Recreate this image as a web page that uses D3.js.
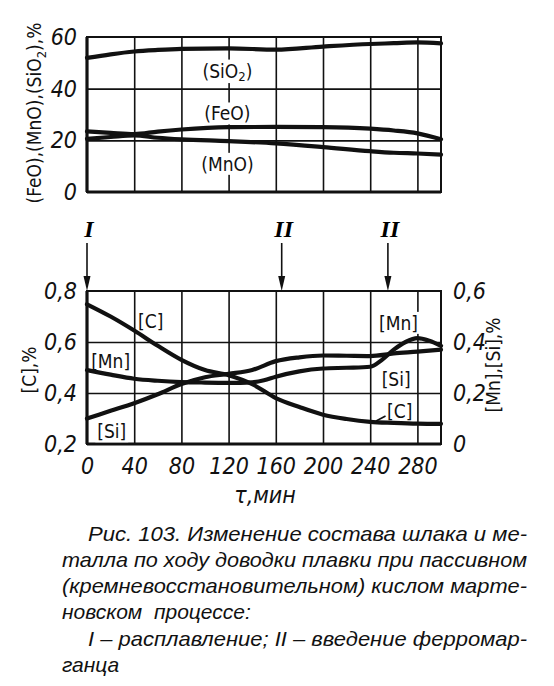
<!DOCTYPE html>
<html>
<head>
<meta charset="utf-8">
<script src="https://cdn.jsdelivr.net/npm/d3@7"></script>
<style>
  html, body { margin: 0; padding: 0; background: #fff; }
  svg { display: block; }
  .num { font-family: "DejaVu Sans Condensed", "DejaVu Sans", sans-serif; font-style: italic; font-size: 23px; fill: #111; }
  .lab { font-family: "DejaVu Sans Condensed", "DejaVu Sans", sans-serif; font-size: 19px; fill: #111; }
  .cap { font-family: "Liberation Sans", Arimo, Arial, sans-serif; font-style: italic; font-size: 21px; fill: #111; }
</style>
</head>
<body>
<div id="chart"></div>
<script>
// time axis, min
var timeTicks = [0, 40, 80, 120, 160, 200, 240, 280];

// slag, %
var slagTime = [0, 20, 40, 60, 80, 120, 160, 200, 240, 260, 280, 300];
var sio2 = [51.9, 53.3, 54.4, 55.0, 55.4, 55.6, 55.1, 56.3, 57.3, 57.6, 57.9, 57.5];
var feo  = [23.5, 22.9, 22.4, 23.4, 24.2, 25.1, 25.2, 25.1, 24.5, 23.8, 22.7, 20.4];
var mno  = [20.6, 21.3, 21.9, 21.0, 20.4, 19.7, 18.8, 17.4, 15.8, 15.2, 14.9, 14.5];

// metal, %
var cTime = [0, 20, 40, 60, 80, 100, 120, 140, 160, 180, 200, 220, 240, 260, 280, 300];
var carbon = [0.748, 0.70, 0.645, 0.585, 0.53, 0.49, 0.47, 0.435, 0.38, 0.345, 0.315, 0.298, 0.287, 0.283, 0.280, 0.279];
var mnTime = [0, 20, 40, 60, 80, 100, 120, 140, 150, 160, 180, 200, 220, 240, 250, 260, 270, 280, 290, 300];
var mn = [0.29, 0.272, 0.256, 0.248, 0.243, 0.241, 0.240, 0.242, 0.250, 0.264, 0.285, 0.296, 0.299, 0.303, 0.33, 0.37, 0.40, 0.415, 0.405, 0.385];
var siTime = [0, 20, 40, 60, 80, 100, 120, 140, 160, 180, 200, 220, 240, 260, 280, 300];
var si = [0.10, 0.13, 0.16, 0.195, 0.235, 0.262, 0.275, 0.29, 0.325, 0.34, 0.347, 0.346, 0.345, 0.355, 0.362, 0.37];

// events: I - melting, II - ferromanganese
var eventTime = [0, 165, 255];
var eventName = ["I", "II", "II"];

var captionLines = [
  "Рис. 103. Изменение состава шлака и ме-",
  "талла по ходу доводки плавки при пассивном",
  "(кремневосстановительном) кислом марте-",
  "новском  процессе:",
  "I – расплавление; II – введение ферромар-",
  "ганца"
];

var W = 554, H = 686;
var svg = d3.select("#chart").append("svg").attr("width", W).attr("height", H);

var x = d3.scaleLinear().domain([0, 300]).range([87, 441]);
var yTop = d3.scaleLinear().domain([0, 60]).range([192, 37]);
var yC = d3.scaleLinear().domain([0.2, 0.8]).range([444, 291]);
var yR = d3.scaleLinear().domain([0, 0.6]).range([444, 291]);

function grid(g, yScale, hVals, y0, y1) {
  g.append("g")
    .attr("transform", "translate(0," + y0 + ")")
    .call(d3.axisBottom(x).tickValues(d3.range(40, 300, 40)).tickSize(-(y0 - y1)).tickFormat(""))
    .call(function(a){ a.select(".domain").remove(); })
    .selectAll("line").attr("stroke", "#111").attr("stroke-width", 1.6);
  g.append("g")
    .attr("transform", "translate(" + x(0) + ",0)")
    .call(d3.axisLeft(yScale).tickValues(hVals).tickSize(-(x(300) - x(0))).tickFormat(""))
    .call(function(a){ a.select(".domain").remove(); })
    .selectAll("line").attr("stroke", "#111").attr("stroke-width", 1.6);
  g.append("rect")
    .attr("x", x(0)).attr("y", y1)
    .attr("width", x(300) - x(0)).attr("height", y0 - y1)
    .attr("fill", "none").attr("stroke", "#111").attr("stroke-width", 2);
  g.append("line").attr("x1", x(0)).attr("x2", x(0)).attr("y1", y1).attr("y2", y0)
    .attr("stroke", "#111").attr("stroke-width", 3.2);
  g.append("line").attr("x1", x(0)).attr("x2", x(300)).attr("y1", y0).attr("y2", y0)
    .attr("stroke", "#111").attr("stroke-width", 3);
}

function curve(g, ts, vs, yScale) {
  var line = d3.line()
    .x(function(d){ return x(d[0]); })
    .y(function(d){ return yScale(d[1]); })
    .curve(d3.curveMonotoneX);
  g.append("path")
    .datum(d3.zip(ts, vs))
    .attr("d", line)
    .attr("fill", "none")
    .attr("stroke", "#111")
    .attr("stroke-width", 4.2)
    .attr("stroke-linecap", "round");
}

function label(g, txt, t, v, yScale, sub) {
  var lg = g.append("g");
  var bg = lg.append("rect").attr("fill", "#fff");
  var tx = lg.append("text").attr("class", "lab")
    .attr("x", x(t)).attr("y", yScale(v))
    .attr("text-anchor", "middle").attr("dominant-baseline", "central");
  if (sub) {
    tx.append("tspan").text(txt[0]);
    tx.append("tspan").attr("dy", 5).style("font-size", "13px").text(txt[1]);
    tx.append("tspan").attr("dy", -5).text(txt[2]);
  } else {
    tx.text(txt);
  }
  var b = tx.node().getBBox();
  bg.attr("x", b.x - 2).attr("y", b.y).attr("width", b.width + 4).attr("height", b.height);
}

// ---- top chart: slag
var topG = svg.append("g");
grid(topG, yTop, [20, 40], 192, 37);
label(topG, ["(SiO", "2", ")"], 119, 47, yTop, true);
label(topG, "(FeO)", 119, 30.4, yTop);
label(topG, "(MnO)", 119, 10.9, yTop);
curve(topG, slagTime, sio2, yTop);
curve(topG, slagTime, feo, yTop);
curve(topG, slagTime, mno, yTop);

topG.append("g")
  .attr("transform", "translate(" + x(0) + ",0)")
  .call(d3.axisLeft(yTop).tickValues([0, 20, 40, 60]).tickSize(0).tickPadding(10).tickFormat(d3.format("d")))
  .call(function(a){ a.select(".domain").remove(); })
  .selectAll("text").attr("class", "num");

var tt = topG.append("text").attr("class", "lab")
  .attr("transform", "translate(41,113) rotate(-90)")
  .attr("text-anchor", "middle");
tt.append("tspan").text("(FeO),(MnO),(SiO");
tt.append("tspan").attr("dy", 5).style("font-size", "13px").text("2");
tt.append("tspan").attr("dy", -5).text("),%");

// ---- bottom chart: metal
var bot = svg.append("g");
grid(bot, yC, [0.4, 0.6], 444, 291);
label(bot, "[C]", 54, 0.682, yC);
label(bot, "[Mn]", 20, 0.525, yC);
label(bot, "[Si]", 21, 0.25, yC);
label(bot, "[Mn]", 264, 0.675, yC);
label(bot, "[Si]", 262, 0.455, yC);
label(bot, "[C]", 265, 0.33, yC);
curve(bot, cTime, carbon, yC);
curve(bot, mnTime, mn, yR);
curve(bot, siTime, si, yR);
// leader from [C] label to the curve
bot.append("line")
  .attr("x1", x(245)).attr("y1", yC(0.29))
  .attr("x2", x(253)).attr("y2", yC(0.31))
  .attr("stroke", "#111").attr("stroke-width", 1.6);

var comma = function(d){ return d === 0 ? "0" : d3.format(".1f")(d).replace(".", ","); };
bot.append("g")
  .attr("transform", "translate(" + x(0) + ",0)")
  .call(d3.axisLeft(yC).tickValues([0.2, 0.4, 0.6, 0.8]).tickSize(0).tickPadding(10).tickFormat(comma))
  .call(function(a){ a.select(".domain").remove(); })
  .selectAll("text").attr("class", "num");
bot.append("g")
  .attr("transform", "translate(" + x(300) + ",0)")
  .call(d3.axisRight(yR).tickValues([0, 0.2, 0.4, 0.6]).tickSize(0).tickPadding(12).tickFormat(comma))
  .call(function(a){ a.select(".domain").remove(); })
  .selectAll("text").attr("class", "num");
bot.append("g")
  .attr("transform", "translate(0,444)")
  .call(d3.axisBottom(x).tickValues(timeTicks).tickSize(0).tickPadding(14))
  .call(function(a){ a.select(".domain").remove(); })
  .selectAll("text").attr("class", "num");

bot.append("text").attr("class", "lab")
  .attr("transform", "translate(36,370) rotate(-90)")
  .attr("text-anchor", "middle").text("[C],%");
bot.append("text").attr("class", "lab")
  .attr("transform", "translate(500,365) rotate(-90)")
  .attr("text-anchor", "middle").text("[Mn],[Si],%");
bot.append("text").attr("class", "num")
  .attr("x", 265).attr("y", 503).attr("text-anchor", "middle")
  .text("τ,мин");

// event arrows
eventTime.forEach(function(t, i) {
  var ax = x(t);
  bot.append("line")
    .attr("x1", ax).attr("x2", ax).attr("y1", 243).attr("y2", 281)
    .attr("stroke", "#111").attr("stroke-width", 1.6);
  bot.append("path")
    .attr("d", "M" + (ax - 3.5) + ",276 L" + ax + ",291 L" + (ax + 3.5) + ",276 Z")
    .attr("fill", "#111");
  bot.append("text")
    .attr("x", ax + 2).attr("y", 237)
    .attr("text-anchor", "middle")
    .style("font-family", "'Liberation Serif', serif")
    .style("font-style", "italic")
    .style("font-weight", "bold")
    .style("font-size", "24px")
    .text(eventName[i]);
});

// caption
var capX = [88, 62, 62, 62, 88, 62];
var capY = [541, 567, 593, 619, 646, 672];
var capJust = [true, true, true, false, true, false];
captionLines.forEach(function(s, i) {
  var t = svg.append("text").attr("class", "cap")
    .attr("x", capX[i]).attr("y", capY[i])
    .attr("xml:space", "preserve").style("white-space", "pre")
    .text(s);
  if (capJust[i]) t.attr("textLength", 527 - capX[i]).attr("lengthAdjust", "spacingAndGlyphs");
});
</script>
</body>
</html>
